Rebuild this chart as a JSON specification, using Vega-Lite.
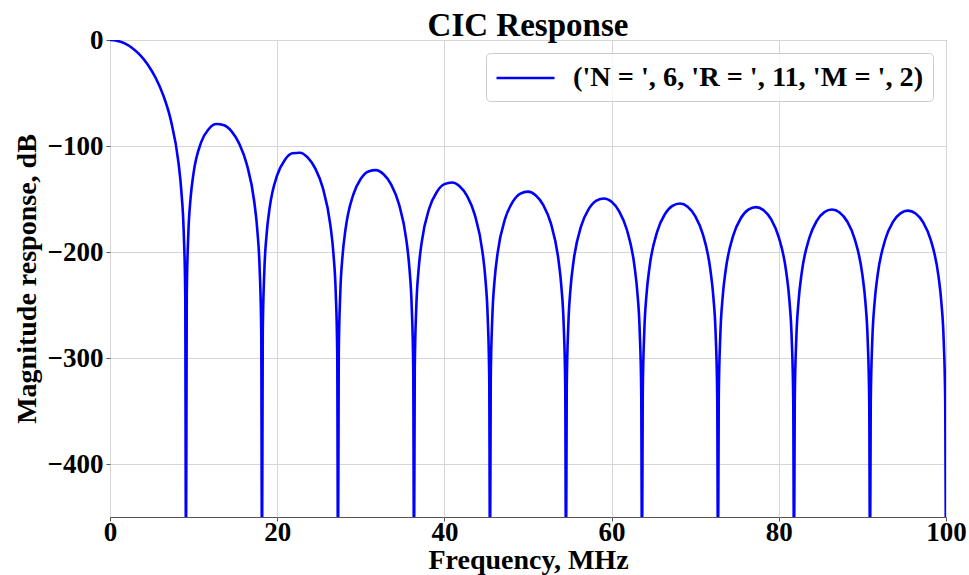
{
  "$schema": "https://vega.github.io/schema/vega-lite/v6.json",
  "width": 836,
  "height": 477,
  "autosize": {"type": "none"},
  "padding": {"left": 110, "top": 40, "right": 23, "bottom": 58},
  "background": "white",
  "title": {
    "text": "CIC Response",
    "font": "Liberation Serif",
    "fontSize": 33,
    "fontWeight": "bold",
    "color": "black",
    "anchor": "middle",
    "offset": -17
  },
  "config": {
    "view": {"stroke": "#555555", "strokeWidth": 1},
    "axis": {
      "domain": false,
      "grid": true,
      "gridColor": "#d6d6d6",
      "gridWidth": 1,
      "tickColor": "#555555",
      "tickSize": 4,
      "labelFont": "Liberation Serif",
      "labelFontSize": 27,
      "labelFontWeight": "bold",
      "labelColor": "black",
      "titleFont": "Liberation Serif",
      "titleFontSize": 28,
      "titleFontWeight": "bold",
      "titleColor": "black"
    }
  },
  "data": {
    "values": [
      {"f": 0, "db": 0}, {"f": 0.909, "db": -0.86}, {"f": 1.818, "db": -3.47}, {"f": 2.727, "db": -7.94}, {"f": 3.636, "db": -14.49}, {"f": 4.545, "db": -23.49}, {"f": 5.455, "db": -35.59}, {"f": 6.364, "db": -52.03}, {"f": 7.273, "db": -75.61}, {"f": 8.182, "db": -115.23}, {"f": 8.545, "db": -143.55}, {"f": 8.818, "db": -181.07}, {"f": 9.0, "db": -239.31}, {"f": 9.091, "db": -500},
      {"f": 9.182, "db": -240.29}, {"f": 9.364, "db": -184.02}, {"f": 9.636, "db": -149.52}, {"f": 10.0, "db": -125.29}, {"f": 10.909, "db": -96.39}, {"f": 11.818, "db": -83.93}, {"f": 12.727, "db": -79.26}, {"f": 13.636, "db": -80.39}, {"f": 14.545, "db": -86.17}, {"f": 15.455, "db": -97.74}, {"f": 16.364, "db": -117.33}, {"f": 17.273, "db": -153.55}, {"f": 17.636, "db": -180.71}, {"f": 17.909, "db": -217.42}, {"f": 18.091, "db": -275.15}, {"f": 18.182, "db": -500},
      {"f": 18.273, "db": -275.66}, {"f": 18.455, "db": -218.94}, {"f": 18.727, "db": -183.77}, {"f": 19.091, "db": -158.65}, {"f": 20.0, "db": -127.52}, {"f": 20.909, "db": -113.12}, {"f": 21.818, "db": -106.81}, {"f": 22.727, "db": -106.3}, {"f": 23.636, "db": -110.81}, {"f": 24.545, "db": -121.12}, {"f": 25.455, "db": -139.58}, {"f": 26.364, "db": -174.8}, {"f": 26.727, "db": -201.55}, {"f": 27.0, "db": -237.96}, {"f": 27.182, "db": -295.49}, {"f": 27.273, "db": -500},
      {"f": 27.364, "db": -295.82}, {"f": 27.545, "db": -238.94}, {"f": 27.818, "db": -203.51}, {"f": 28.182, "db": -178.07}, {"f": 29.091, "db": -146.11}, {"f": 30.0, "db": -130.95}, {"f": 30.909, "db": -123.96}, {"f": 31.818, "db": -122.76}, {"f": 32.727, "db": -126.69}, {"f": 33.636, "db": -136.42}, {"f": 34.545, "db": -154.32}, {"f": 35.455, "db": -189.04}, {"f": 35.818, "db": -215.59}, {"f": 36.091, "db": -251.84}, {"f": 36.273, "db": -309.27}, {"f": 36.364, "db": -500},
      {"f": 36.455, "db": -309.5}, {"f": 36.636, "db": -252.53}, {"f": 36.909, "db": -216.98}, {"f": 37.273, "db": -191.36}, {"f": 38.182, "db": -158.96}, {"f": 39.091, "db": -143.39}, {"f": 40.0, "db": -136.0}, {"f": 40.909, "db": -134.41}, {"f": 41.818, "db": -137.99}, {"f": 42.727, "db": -147.36}, {"f": 43.636, "db": -164.94}, {"f": 44.545, "db": -199.34}, {"f": 44.909, "db": -225.76}, {"f": 45.182, "db": -261.92}, {"f": 45.364, "db": -319.29}, {"f": 45.455, "db": -500},
      {"f": 45.545, "db": -319.46}, {"f": 45.727, "db": -262.44}, {"f": 46.0, "db": -226.8}, {"f": 46.364, "db": -201.06}, {"f": 47.273, "db": -168.38}, {"f": 48.182, "db": -152.53}, {"f": 49.091, "db": -144.88}, {"f": 50.0, "db": -143.03}, {"f": 50.909, "db": -146.37}, {"f": 51.818, "db": -155.5}, {"f": 52.727, "db": -172.85}, {"f": 53.636, "db": -207.03}, {"f": 54.0, "db": -233.37}, {"f": 54.273, "db": -269.46}, {"f": 54.455, "db": -326.78}, {"f": 54.545, "db": -500},
      {"f": 54.636, "db": -326.91}, {"f": 54.818, "db": -269.85}, {"f": 55.091, "db": -234.14}, {"f": 55.455, "db": -208.32}, {"f": 56.364, "db": -175.43}, {"f": 57.273, "db": -159.38}, {"f": 58.182, "db": -151.54}, {"f": 59.091, "db": -149.5}, {"f": 60.0, "db": -152.66}, {"f": 60.909, "db": -161.61}, {"f": 61.818, "db": -178.78}, {"f": 62.727, "db": -212.78}, {"f": 63.091, "db": -239.05}, {"f": 63.364, "db": -275.09}, {"f": 63.545, "db": -332.38}, {"f": 63.636, "db": -500},
      {"f": 63.727, "db": -332.48}, {"f": 63.909, "db": -275.38}, {"f": 64.182, "db": -239.63}, {"f": 64.545, "db": -213.74}, {"f": 65.455, "db": -180.69}, {"f": 66.364, "db": -164.48}, {"f": 67.273, "db": -156.49}, {"f": 68.182, "db": -154.29}, {"f": 69.091, "db": -157.3}, {"f": 70.0, "db": -166.11}, {"f": 70.909, "db": -183.13}, {"f": 71.818, "db": -216.99}, {"f": 72.182, "db": -243.21}, {"f": 72.455, "db": -279.2}, {"f": 72.636, "db": -336.46}, {"f": 72.727, "db": -500},
      {"f": 72.818, "db": -336.53}, {"f": 73.0, "db": -279.41}, {"f": 73.273, "db": -243.61}, {"f": 73.636, "db": -217.67}, {"f": 74.545, "db": -184.49}, {"f": 75.455, "db": -168.15}, {"f": 76.364, "db": -160.02}, {"f": 77.273, "db": -157.7}, {"f": 78.182, "db": -160.58}, {"f": 79.091, "db": -169.26}, {"f": 80.0, "db": -186.16}, {"f": 80.909, "db": -219.9}, {"f": 81.273, "db": -246.07}, {"f": 81.545, "db": -282.03}, {"f": 81.727, "db": -339.27}, {"f": 81.818, "db": -500},
      {"f": 81.909, "db": -339.31}, {"f": 82.091, "db": -282.16}, {"f": 82.364, "db": -246.33}, {"f": 82.727, "db": -220.34}, {"f": 83.636, "db": -187.04}, {"f": 84.545, "db": -170.58}, {"f": 85.455, "db": -162.33}, {"f": 86.364, "db": -159.89}, {"f": 87.273, "db": -162.66}, {"f": 88.182, "db": -171.23}, {"f": 89.091, "db": -188.01}, {"f": 90.0, "db": -221.64}, {"f": 90.364, "db": -247.76}, {"f": 90.636, "db": -283.68}, {"f": 90.818, "db": -340.9}, {"f": 90.909, "db": -500},
      {"f": 91.0, "db": -340.92}, {"f": 91.182, "db": -283.75}, {"f": 91.455, "db": -247.89}, {"f": 91.818, "db": -221.85}, {"f": 92.727, "db": -188.43}, {"f": 93.636, "db": -171.86}, {"f": 94.545, "db": -163.51}, {"f": 95.455, "db": -160.96}, {"f": 96.364, "db": -163.62}, {"f": 97.273, "db": -172.08}, {"f": 98.182, "db": -188.76}, {"f": 99.091, "db": -222.28}, {"f": 99.455, "db": -248.35}, {"f": 99.727, "db": -284.25}, {"f": 99.909, "db": -341.44}, {"f": 100.0, "db": -500}
    ]
  },
  "mark": {"type": "line", "strokeWidth": 2.6, "interpolate": "monotone", "clip": true},
  "encoding": {
    "x": {
      "field": "f",
      "type": "quantitative",
      "scale": {"domain": [0, 100], "nice": false, "zero": false},
      "axis": {"title": "Frequency, MHz", "values": [0, 20, 40, 60, 80, 100], "labelPadding": -2, "titlePadding": 1, "labelFlush": false}
    },
    "y": {
      "field": "db",
      "type": "quantitative",
      "scale": {"domain": [-450, 0], "nice": false, "zero": false},
      "axis": {"title": "Magnitude response, dB", "values": [0, -100, -200, -300, -400], "labelPadding": 3, "titlePadding": 6}
    },
    "color": {
      "datum": "('N = ', 6, 'R = ', 11, 'M = ', 2)",
      "type": "nominal",
      "scale": {"range": ["#0000ff"]},
      "legend": {
        "title": null,
        "orient": "top-right",
        "offset": 13,
        "symbolType": "M-1,0L3,0",
        "symbolSize": 841,
        "symbolStrokeWidth": 2.6,
        "labelFont": "Liberation Serif",
        "labelFontSize": 28.3,
        "labelFontWeight": "bold",
        "labelColor": "black",
        "labelLimit": 600,
        "labelOffset": 46,
        "padding": 9,
        "strokeColor": "#cccccc",
        "cornerRadius": 4,
        "fillColor": "rgba(255,255,255,0.8)"
      }
    }
  }
}
